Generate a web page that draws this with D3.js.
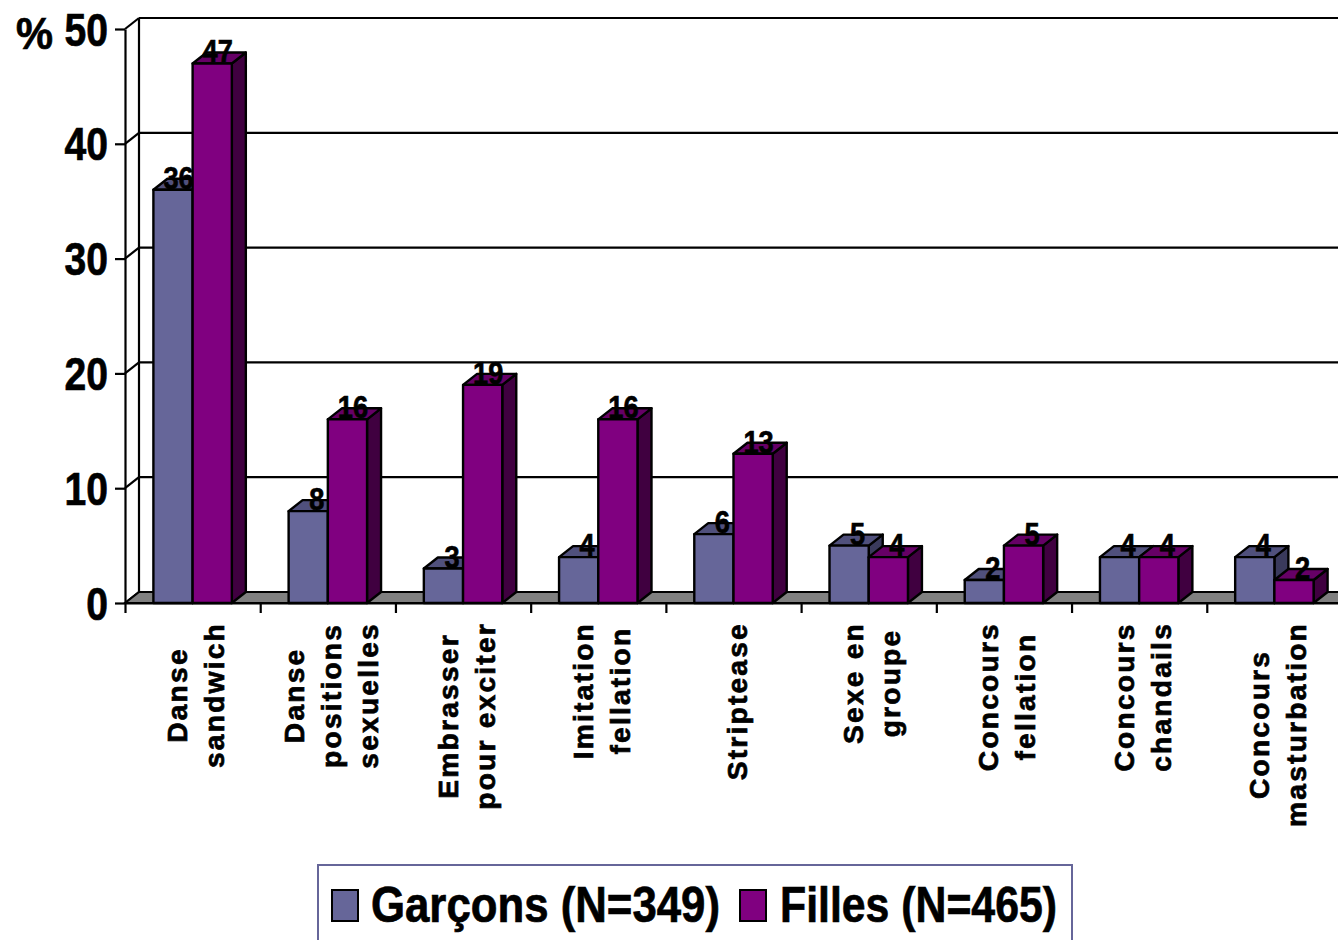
<!DOCTYPE html>
<html lang="fr">
<head>
<meta charset="UTF-8" />
<title>Garçons et filles</title>
<script src="https://d3js.org/d3.v7.min.js"></script>
<style>
    body { margin: 0; background: #fff; overflow: hidden; }
    svg { display: block; }
    text { font-family: "Liberation Sans", Arial, sans-serif; font-weight: bold; fill: #000; stroke: #000; stroke-width: 0.7px; }
</style>
</head>
<body>
<div id="chart"></div>
<script>
const categories = [
    ["Danse", "sandwich"],
    ["Danse", "positions", "sexuelles"],
    ["Embrasser", "pour exciter"],
    ["Imitation", "fellation"],
    ["Striptease"],
    ["Sexe en", "groupe"],
    ["Concours", "fellation"],
    ["Concours", "chandails"],
    ["Concours", "masturbation"]
];
const seriesNames = ["Garçons (N=349)", "Filles (N=465)"];
const garcons = [36, 8, 3, 4, 6, 5, 2, 4, 4];
const filles = [47, 16, 19, 16, 13, 4, 5, 4, 2];
const yTicks = [0, 10, 20, 30, 40, 50];

const W = 1338, H = 940;
const depthX = 14, depthY = 11;
const colors = [
    { front: "#666699", top: "#50507c", side: "#3a3a5c" },
    { front: "#800080", top: "#660066", side: "#400040" }
];

const svg = d3.select("#chart").append("svg").attr("width", W).attr("height", H);

const y = d3.scaleLinear().domain([0, 50]).range([603, 29]);
const x0 = d3.scaleBand()
    .domain(d3.range(categories.length))
    .range([125, 1342])
    .paddingInner(0.42)
    .paddingOuter(0.21);
const x1 = d3.scaleBand().domain([0, 1]).range([0, x0.bandwidth()]);
const xEdge = d3.scaleLinear().domain([0, categories.length]).range([125, 1342]);

const line = (x1_, y1_, x2_, y2_, w) => svg.append("line")
    .attr("x1", x1_).attr("y1", y1_).attr("x2", x2_).attr("y2", y2_)
    .attr("stroke", "#000").attr("stroke-width", w || 2.2);

// back wall and grid
yTicks.forEach(t => {
    if (t > 0) line(xEdge(0) + depthX, y(t) - depthY, W, y(t) - depthY);
    line(xEdge(0), y(t), xEdge(0) + depthX, y(t) - depthY);
});
line(xEdge(0) + depthX, y(50) - depthY, xEdge(0) + depthX, y(0) - depthY);

// floor
svg.append("polygon")
    .attr("points", [[xEdge(0), y(0)], [xEdge(0) + depthX, y(0) - depthY], [W + 20, y(0) - depthY], [W + 20, y(0)]].join(" "))
    .attr("fill", "#808080").attr("stroke", "#000").attr("stroke-width", 2.2);

// axes
const yAxis = svg.append("g")
    .attr("transform", `translate(${xEdge(0)},0)`)
    .call(d3.axisLeft(y).tickValues(yTicks).tickSize(10).tickSizeOuter(0));
yAxis.selectAll("path,line").attr("stroke", "#000").attr("stroke-width", 2.2);
yAxis.selectAll("text")
    .attr("x", -20)
    .attr("font-size", 46)
    .attr("transform", "scale(0.85,1)")
    .attr("dy", "0.35em");

const xAxis = svg.append("g")
    .attr("transform", `translate(0,${y(0)})`)
    .call(d3.axisBottom(xEdge).ticks(categories.length).tickSize(10).tickSizeOuter(0).tickFormat(""));
xAxis.selectAll("path,line").attr("stroke", "#000").attr("stroke-width", 2.2);

svg.append("text").attr("x", 16).attr("y", 49).attr("font-size", 44)
    .attr("textLength", 37).attr("lengthAdjust", "spacingAndGlyphs").text("%");

// bars, each label is painted before the next bar so it can be covered by it
const poly = (g, pts, fill) => g.append("polygon")
    .attr("points", pts.join(" "))
    .attr("fill", fill)
    .attr("stroke", "#000")
    .attr("stroke-width", 2.4)
    .attr("stroke-linejoin", "round");

categories.forEach((c, i) => {
    const g = svg.append("g");
    [garcons[i], filles[i]].forEach((v, s) => {
        const l = x0(i) + x1(s), r = l + x1.bandwidth(), t = y(v), b = y(0);
        const col = colors[s];
        poly(g, [[r, t], [r + depthX, t - depthY], [r + depthX, b - depthY], [r, b]], col.side);
        poly(g, [[l, t], [l + depthX, t - depthY], [r + depthX, t - depthY], [r, t]], col.top);
        poly(g, [[l, t], [r, t], [r, b], [l, b]], col.front);
        g.append("text")
            .attr("transform", `translate(${(l + r) / 2 + (v < 10 ? 8.5 : 5.5)},${t - 1}) scale(0.85,1)`)
            .attr("text-anchor", "middle")
            .attr("font-size", 32)
            .text(v);
    });
});

// category labels, rotated, top aligned, lines centred on the longest one
const labelTop = 622, lineStep = 37;
categories.forEach((lines, i) => {
    const cx = x0(i) + x0.bandwidth() / 2;
    const g = svg.append("g");
    const texts = lines.map((txt, k) => {
        const base = cx + 13 + (k - (lines.length - 1) / 2) * lineStep;
        return { base, el: g.append("text")
            .attr("font-size", 28.2)
            .attr("letter-spacing", 2.2)
            .attr("text-anchor", "middle")
            .text(txt) };
    });
    const longest = d3.max(texts, t => t.el.node().getComputedTextLength());
    texts.forEach(t => t.el.attr("transform", `translate(${t.base},${labelTop + longest / 2}) rotate(-90)`));
});

// legend, box runs past the bottom edge
svg.append("rect")
    .attr("x", 318).attr("y", 865).attr("width", 754).attr("height", 100)
    .attr("fill", "#fff").attr("stroke", colors[0].front).attr("stroke-width", 2);

const legendSwatch = d3.scaleOrdinal().domain([0, 1]).range([332, 740]);
const legendText = d3.scaleOrdinal().domain([0, 1]).range([371, 780]);
const legendWidth = [349, 277];
seriesNames.forEach((name, s) => {
    svg.append("rect")
        .attr("x", legendSwatch(s)).attr("y", 890).attr("width", 26).attr("height", 31)
        .attr("fill", colors[s].front).attr("stroke", "#000").attr("stroke-width", 2);
    svg.append("text")
        .attr("x", legendText(s)).attr("y", 922)
        .attr("font-size", 50)
        .attr("textLength", legendWidth[s])
        .attr("lengthAdjust", "spacingAndGlyphs")
        .text(name);
});
</script>
</body>
</html>
